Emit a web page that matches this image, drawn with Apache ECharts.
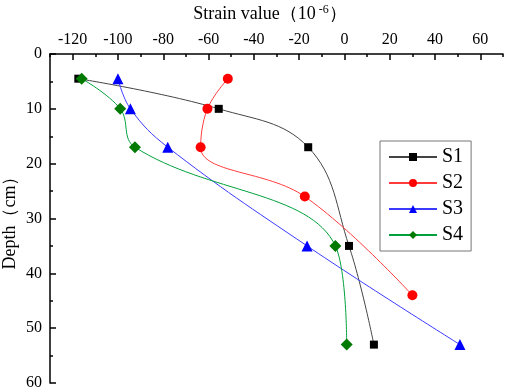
<!DOCTYPE html>
<html>
<head>
<meta charset="utf-8">
<script src="https://cdn.jsdelivr.net/npm/echarts@6/dist/echarts.min.js"></script>
<style>
  html, body { margin: 0; padding: 0; background: #fff; }
  #main { width: 505px; height: 392px; }
</style>
</head>
<body>
<div id="main"></div>
<script>
  // 데이터
  var seriesNames = ['S1', 'S2', 'S3', 'S4'];
  var depthS1 = [4.5, 10, 17, 35, 53];
  var strainS1 = [-117.5, -55.5, -16, 2, 13];
  var depthS2 = [4.5, 10, 17, 26, 44];
  var strainS2 = [-51.5, -60.5, -63.5, -17.5, 30];
  var depthS3 = [4.5, 10, 17, 35, 53];
  var strainS3 = [-100, -94.5, -78, -16.5, 51];
  var depthS4 = [4.5, 10, 17, 35, 53];
  var strainS4 = [-116, -99, -92.5, -4, 1];
  var xMajorTicks = [-120, -100, -80, -60, -40, -20, 0, 20, 40, 60];

  function pairs(xs, ys) {
    return xs.map(function (x, i) { return [x, ys[i]]; });
  }

  var font = 'Liberation Serif';
  var myChart = echarts.init(document.getElementById('main'));

  var option = {
    animation: false,
    grid: { left: 50, right: 2, top: 54, bottom: 9, outerBoundsMode: 'none', containLabel: false },
    legend: {
      orient: 'vertical',
      left: 380,
      top: 141,
      width: 88,
      padding: [6, 8, 6, 8],
      itemGap: 6,
      itemWidth: 48,
      itemHeight: 10,
      borderColor: '#777',
      borderWidth: 1,
      textStyle: { fontFamily: font, fontSize: 20, color: '#000' },
      data: seriesNames
    },
    xAxis: [
      {
        type: 'value',
        position: 'top',
        min: -130,
        max: 70,
        interval: 10,
        name: 'Strain value（10{sup|-6}）',
        nameLocation: 'middle',
        nameGap: 30,
        nameTextStyle: {
          fontFamily: font, fontSize: 18, color: '#000', padding: [0, 13, 0, 0],
          rich: { sup: { fontFamily: font, fontSize: 12, verticalAlign: 'top', padding: [0, 0, 8, 3] } }
        },
        axisLine: { onZero: false, lineStyle: { color: '#000', width: 1.5 } },
        axisTick: { inside: true, length: 3, lineStyle: { color: '#000', width: 1.5 } },
        axisLabel: { show: false },
        splitLine: { show: false }
      },
      {
        type: 'value',
        position: 'top',
        min: -130,
        max: 70,
        axisLine: { show: false, onZero: false },
        axisTick: { inside: true, length: 6, customValues: xMajorTicks, lineStyle: { color: '#000', width: 1.5 } },
        axisLabel: { customValues: xMajorTicks, fontFamily: font, fontSize: 16, color: '#000', margin: 6 },
        splitLine: { show: false }
      }
    ],
    yAxis: {
      type: 'value',
      inverse: true,
      min: 0,
      max: 60,
      interval: 10,
      name: 'Depth（cm）',
      nameLocation: 'middle',
      nameMoveOverlap: false,
      nameGap: 31,
      nameTextStyle: { fontFamily: font, fontSize: 18, color: '#000' },
      axisLine: { show: true, onZero: false, lineStyle: { color: '#000', width: 1.5 } },
      axisTick: { inside: true, length: 6, lineStyle: { color: '#000', width: 1.5 } },
      minorTick: { show: true, splitNumber: 2, length: 3, lineStyle: { color: '#000', width: 1.5 } },
      axisLabel: { fontFamily: font, fontSize: 16, color: '#000', margin: 8 },
      splitLine: { show: false }
    },
    series: [
      {
        name: 'S1', type: 'line', smooth: 0.4,
        symbol: 'rect', symbolSize: 8,
        itemStyle: { color: '#000' },
        lineStyle: { color: '#444', width: 1 },
        data: pairs(strainS1, depthS1)
      },
      {
        name: 'S2', type: 'line', smooth: 0.4,
        symbol: 'circle', symbolSize: 10,
        itemStyle: { color: '#ff0000' },
        lineStyle: { color: '#ff3b3b', width: 1 },
        data: pairs(strainS2, depthS2)
      },
      {
        name: 'S3', type: 'line', smooth: 0.4,
        symbol: 'triangle', symbolSize: 11,
        itemStyle: { color: '#0000ff' },
        lineStyle: { color: '#3b3bff', width: 1 },
        data: pairs(strainS3, depthS3)
      },
      {
        name: 'S4', type: 'line', smooth: 0.4,
        symbol: 'diamond', symbolSize: 12,
        itemStyle: { color: '#007a00' },
        lineStyle: { color: '#00a03c', width: 1 },
        data: pairs(strainS4, depthS4)
      }
    ]
  };

  myChart.setOption(option);
</script>
</body>
</html>
